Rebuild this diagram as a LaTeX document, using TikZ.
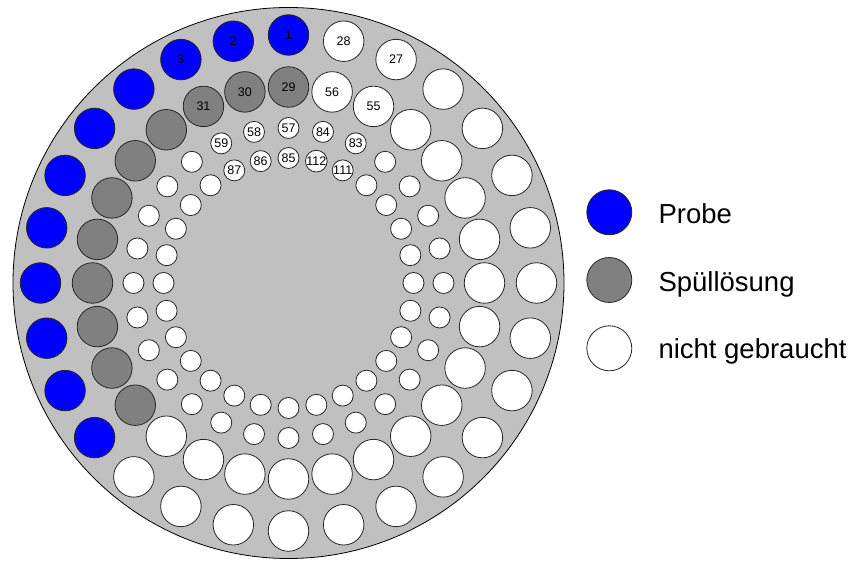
\documentclass[tikz,border=0pt]{standalone}
\usepackage{fontspec}
\setmainfont{Liberation Sans}
\definecolor{tray}{HTML}{C0C0C0}
\definecolor{probe}{HTML}{0000FF}
\definecolor{rinse}{HTML}{808080}
\begin{document}
\begin{tikzpicture}[x=1pt,y=1pt,
  slotbase/.style={circle, draw=black!85, line width=0.8pt, inner sep=0pt,
              font=\fontsize{12.5}{12.5}\selectfont, text=black},
  bigslot/.style={slotbase, minimum size=40.5pt},
  smallslot/.style={slotbase, minimum size=21pt},
  legslot/.style={circle, draw=black!85, line width=0.8pt, minimum size=45pt, inner sep=0pt},
  legtext/.style={anchor=base west, inner sep=0pt, font=\fontsize{27.5}{27.5}\selectfont}]
\useasboundingbox (0,0) rectangle (857,561);
\node[circle, draw=black, line width=0.8pt, fill=tray, minimum size=551pt, inner sep=0pt] (trayc) at (288.5,278) {};
\foreach \k in {1,...,28}{
  \pgfmathsetmacro{\a}{90+(\k-1)*360/28}
  \pgfmathtruncatemacro{\lab}{(\k<4)||(\k>26)}
  \pgfmathtruncatemacro{\nb}{\k+28}
  \pgfmathtruncatemacro{\nc}{\k+56}
  \pgfmathtruncatemacro{\nd}{\k+84}
  \ifnum\k<12 \def\fa{probe}\def\fb{rinse}\else\def\fa{white}\def\fb{white}\fi
  \node[bigslot, fill=\fa] (o\k) at ({288.5+248*cos(\a)},{278+248*sin(\a)}) {\ifnum\lab=1 \k\fi};
  \node[bigslot, fill=\fb] (s\k) at ({288.5+196*cos(\a)},{278+196*sin(\a)}) {\ifnum\lab=1 \nb\fi};
  \node[smallslot, fill=white] (t\k) at ({288.5+155*cos(\a)},{278+155*sin(\a)}) {\ifnum\lab=1 \nc\fi};
  \node[smallslot, fill=white] (i\k) at ({288.5+125*cos(\a)},{278+125*sin(\a)}) {\ifnum\lab=1 \nd\fi};
}
\node[legslot, fill=probe] (lp) at (609.3,348.7) {};
\node[legslot, fill=rinse] (lg) at (609.3,281) {};
\node[legslot, fill=white] (lw) at (609.3,212.7) {};
\node[legtext] (tp) at (658.3,337.7) {Probe};
\node[legtext] (tg) at (658.3,269.7) {Spüllösung};
\node[legtext] (tw) at (658.3,202.7) {nicht gebraucht};
\end{tikzpicture}
\end{document}
